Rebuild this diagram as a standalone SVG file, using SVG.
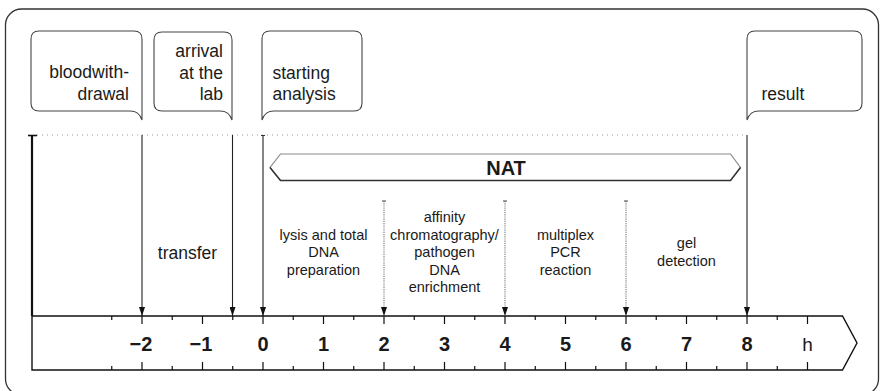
<svg xmlns="http://www.w3.org/2000/svg" width="880" height="391" viewBox="0 0 880 391">
<style>
text{font-family:"Liberation Sans",Arial,sans-serif;fill:#1a1a1a}
.bt{font-size:17.5px}
.pt{font-size:14.5px;text-anchor:middle}
.num{font-size:20px;font-weight:bold;text-anchor:middle}
.bub{fill:#fff;stroke:#444;stroke-width:1.1}
.arr{stroke:#222;stroke-width:1.1;fill:none;marker-end:url(#ah)}
.darr{stroke:#777;stroke-width:1.1;stroke-dasharray:1.2 1;fill:none;marker-end:url(#ah)}
.tk{stroke:#111;stroke-width:1.2}
</style>
<defs>
<marker id="ah" viewBox="0 0 9 6" refX="9" refY="3" markerWidth="9" markerHeight="6" markerUnits="userSpaceOnUse" orient="auto">
<path d="M0,0 L9,3 L0,6 Z" fill="#111"/>
</marker>
</defs>
<rect x="5.5" y="9" width="873" height="386" rx="16" fill="#fff" stroke="#333" stroke-width="1.3"/>

<g id="bubble-blood">
<path class="bub" d="M39,31 H134 Q142,31 142,39 V120 C140,114 137,111 130,111 H39 Q31,111 31,103 V39 Q31,31 39,31 Z"/>
<text class="bt" x="129" y="78" text-anchor="end">bloodwith-</text>
<text class="bt" x="129" y="100" text-anchor="end">drawal</text>
</g>
<g id="bubble-arrival">
<path class="bub" d="M162,32 H224 Q232,32 232,40 V120 C230,114 227,111 220,111 H162 Q154,111 154,103 V40 Q154,32 162,32 Z"/>
<text class="bt" x="223" y="57" text-anchor="end">arrival</text>
<text class="bt" x="223" y="78.5" text-anchor="end">at the</text>
<text class="bt" x="223" y="100" text-anchor="end">lab</text>
</g>
<g id="bubble-start">
<path class="bub" d="M270,31 H354 Q362,31 362,39 V103 Q362,111 354,111 H274 C267,111 264,114 262,120 V39 Q262,31 270,31 Z"/>
<text class="bt" x="272.5" y="78.5">starting</text>
<text class="bt" x="272.5" y="100">analysis</text>
</g>
<g id="bubble-result">
<path class="bub" d="M755,31 H854 Q862,31 862,39 V103 Q862,111 854,111 H759 C752,111 749,114 747,120 V39 Q747,31 755,31 Z"/>
<text class="bt" x="761.5" y="100">result</text>
</g>

<g id="nat">
<path d="M280.5,180.5 L270,167.5 L280.5,154 H730.5 L740.5,167.5 L730.5,180.5 Z" fill="#fff" stroke="#8a8a8a" stroke-width="1.2"/>
<path d="M270,167.5 L280.5,180.5 H730.5 L740.5,167.5" fill="none" stroke="#333" stroke-width="1.4"/>
<text x="506" y="175" font-size="20" font-weight="bold" text-anchor="middle">NAT</text>
</g>

<g id="axis">
<path d="M32,316 H842.5 L857,343 L842.5,370 H32 Z" fill="#fff" stroke="#111" stroke-width="1.4"/>
<g class="tk">
<path d="M142,316v8M202.5,316v8M263,316v8M323.5,316v8M384,316v8M444.5,316v8M505,316v8M565.5,316v8M626,316v8M686.5,316v8M747,316v8M807.5,316v8"/>
<path d="M142,370v-8M202.5,370v-8M263,370v-8M323.5,370v-8M384,370v-8M444.5,370v-8M505,370v-8M565.5,370v-8M626,370v-8M686.5,370v-8M747,370v-8M807.5,370v-8"/>
<path d="M111.75,316v4M172.25,316v4M232.75,316v4M293.25,316v4M353.75,316v4M414.25,316v4M474.75,316v4M535.25,316v4M595.75,316v4M656.25,316v4M716.75,316v4M777.25,316v4"/>
<path d="M111.75,370v-4M172.25,370v-4M232.75,370v-4M293.25,370v-4M353.75,370v-4M414.25,370v-4M474.75,370v-4M535.25,370v-4M595.75,370v-4M656.25,370v-4M716.75,370v-4M777.25,370v-4"/>
</g>
<text class="num" x="141" y="351">−2</text>
<text class="num" x="201" y="351">−1</text>
<text class="num" x="263" y="351">0</text>
<text class="num" x="323.5" y="351">1</text>
<text class="num" x="384" y="351">2</text>
<text class="num" x="444.5" y="351">3</text>
<text class="num" x="505" y="351">4</text>
<text class="num" x="565.5" y="351">5</text>
<text class="num" x="626" y="351">6</text>
<text class="num" x="686.5" y="351">7</text>
<text class="num" x="747" y="351">8</text>
<text x="807.5" y="351" font-size="19" text-anchor="middle">h</text>
</g>

<g id="connectors">
<path d="M37,135 H745" stroke="#999" stroke-width="1" stroke-dasharray="1 4" fill="none"/>
<path d="M32,135 V316" stroke="#111" stroke-width="2.2"/>
<path d="M28,135.5 H37" stroke="#111" stroke-width="1.6"/>
<path class="arr" d="M142,135 V316"/>
<path class="arr" d="M232.5,135 V316"/>
<path class="arr" d="M263,135 V316"/>
<path class="arr" d="M747,135 V316" stroke-width="1.4"/>
<path d="M261,135.5h4" stroke="#333" stroke-width="1"/>
<path class="darr" d="M384,201 V316"/>
<path class="darr" d="M505,201 V316"/>
<path class="darr" d="M626,201 V316"/>
<path d="M382,201h4M503,201h4M624,201h4" stroke="#444" stroke-width="1"/>
</g>

<g id="labels">
<text class="bt" x="187.5" y="259" text-anchor="middle">transfer</text>
<text class="pt" x="323.5" y="239.5">lysis and total</text>
<text class="pt" x="323.5" y="257">DNA</text>
<text class="pt" x="323.5" y="274.5">preparation</text>
<text class="pt" x="444.5" y="222">affinity</text>
<text class="pt" x="444.5" y="239.5">chromatography/</text>
<text class="pt" x="444.5" y="257">pathogen</text>
<text class="pt" x="444.5" y="274.5">DNA</text>
<text class="pt" x="444.5" y="292">enrichment</text>
<text class="pt" x="565.5" y="239.5">multiplex</text>
<text class="pt" x="565.5" y="257">PCR</text>
<text class="pt" x="565.5" y="274.5">reaction</text>
<text class="pt" x="686.5" y="248">gel</text>
<text class="pt" x="686.5" y="265.5">detection</text>
</g>
</svg>
